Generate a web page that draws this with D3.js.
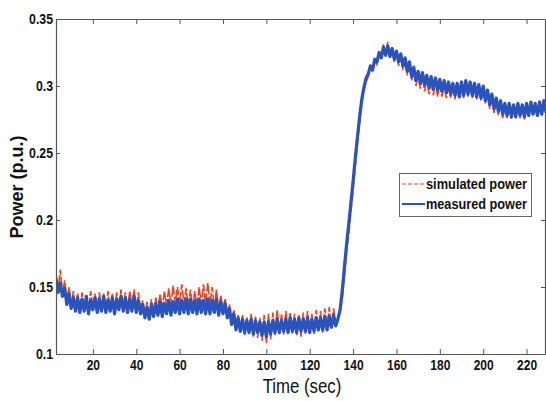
<!DOCTYPE html>
<html>
<head>
<meta charset="utf-8">
<script src="https://cdn.jsdelivr.net/npm/d3@7"></script>
<style>
  html, body { margin: 0; padding: 0; background: #fff; }
  svg { display: block; }
</style>
</head>
<body>
<div id="chart"></div>
<script>
// sampled once per second, starting at t = 3 s
const startTime = 3;

// measured power (p.u.), blue
const measured = [
  0.156, 0.146, 0.153, 0.143, 0.149, 0.137, 0.145, 0.134, 0.142, 0.132,
  0.142, 0.131, 0.141, 0.132, 0.143, 0.130, 0.140, 0.133, 0.142, 0.131,
  0.141, 0.132, 0.143, 0.131, 0.140, 0.132, 0.142, 0.130, 0.141, 0.133,
  0.143, 0.132, 0.142, 0.131, 0.141, 0.132, 0.143, 0.131, 0.140, 0.130,
  0.137, 0.127, 0.135, 0.126, 0.137,
  0.128, 0.138, 0.129, 0.139, 0.128, 0.138, 0.130, 0.140, 0.129, 0.139,
  0.131, 0.141, 0.130, 0.140, 0.131, 0.141, 0.130, 0.141, 0.131, 0.140,
  0.130, 0.141, 0.131, 0.140, 0.130, 0.141, 0.130, 0.140, 0.131, 0.141,
  0.129, 0.139, 0.130,
  0.138, 0.127, 0.134, 0.122, 0.130, 0.118, 0.127,
  0.117, 0.126, 0.116, 0.125, 0.116, 0.126, 0.115, 0.125, 0.116, 0.124,
  0.114, 0.124, 0.113, 0.124, 0.115, 0.125, 0.116, 0.126, 0.116, 0.125,
  0.117, 0.126, 0.116, 0.127, 0.117, 0.126, 0.116, 0.127, 0.117, 0.126,
  0.117, 0.127, 0.116, 0.126, 0.117, 0.127, 0.118, 0.127, 0.118, 0.128,
  0.118, 0.128, 0.120, 0.129, 0.121,
  0.126, 0.133, 0.147, 0.165, 0.182, 0.197, 0.213, 0.229, 0.246, 0.262,
  0.277, 0.290, 0.299, 0.306,
  0.309, 0.315, 0.312, 0.320, 0.318, 0.325, 0.321, 0.329, 0.323, 0.330,
  0.322, 0.328, 0.320, 0.326,
  0.318, 0.324, 0.315, 0.321, 0.311, 0.318, 0.307, 0.314, 0.304, 0.311,
  0.302, 0.310, 0.301, 0.308, 0.299, 0.307, 0.298, 0.306, 0.297, 0.305,
  0.296, 0.304, 0.295, 0.303, 0.294,
  0.302, 0.293, 0.302, 0.292, 0.303, 0.293, 0.304, 0.294, 0.303, 0.293,
  0.302, 0.292, 0.301, 0.291, 0.300,
  0.289, 0.297, 0.286, 0.294, 0.283, 0.291, 0.281, 0.289, 0.279, 0.287,
  0.278, 0.287,
  0.277, 0.286, 0.277, 0.287, 0.278, 0.286, 0.277, 0.287, 0.278, 0.288,
  0.279, 0.287, 0.278, 0.288, 0.279, 0.289, 0.280
];

// simulated power (p.u.), red dashed
const simulated = [
  0.160, 0.148, 0.163, 0.145, 0.155, 0.140, 0.150, 0.137, 0.147, 0.135,
  0.145, 0.133, 0.146, 0.134, 0.144, 0.132, 0.147, 0.135, 0.145, 0.133,
  0.146, 0.134, 0.145, 0.132, 0.147, 0.134, 0.145, 0.133, 0.146, 0.135,
  0.148, 0.134, 0.146, 0.133, 0.147, 0.135, 0.148, 0.134, 0.146, 0.133,
  0.140, 0.128, 0.139, 0.127, 0.141,
  0.131, 0.142, 0.133, 0.145, 0.134, 0.147, 0.136, 0.149, 0.137, 0.151,
  0.138, 0.150, 0.137, 0.152, 0.138, 0.149, 0.136, 0.148, 0.135, 0.147,
  0.136, 0.150, 0.137, 0.152, 0.138, 0.153, 0.137, 0.150, 0.135, 0.148,
  0.133, 0.144, 0.132,
  0.141, 0.129, 0.137, 0.123, 0.133, 0.118, 0.129,
  0.116, 0.129, 0.114, 0.128, 0.115, 0.130, 0.113, 0.128, 0.112, 0.127,
  0.110, 0.129, 0.108, 0.130, 0.111, 0.131, 0.114, 0.133, 0.115, 0.130,
  0.114, 0.132, 0.116, 0.131, 0.115, 0.130, 0.114, 0.129, 0.113, 0.131,
  0.115, 0.132, 0.116, 0.130, 0.115, 0.133, 0.117, 0.132, 0.116, 0.134,
  0.118, 0.135, 0.119, 0.134, 0.122,
  0.128, 0.131, 0.141, 0.158, 0.175, 0.190, 0.206, 0.222, 0.240, 0.256,
  0.272, 0.286, 0.296, 0.303,
  0.307, 0.314, 0.310, 0.319, 0.316, 0.324, 0.320, 0.331, 0.322, 0.333,
  0.321, 0.329, 0.318, 0.325,
  0.315, 0.322, 0.312, 0.318, 0.308, 0.315, 0.304, 0.311, 0.300, 0.309,
  0.298, 0.307, 0.296, 0.305, 0.294, 0.304, 0.293, 0.303, 0.292, 0.302,
  0.292, 0.301, 0.291, 0.300, 0.291,
  0.300, 0.290, 0.301, 0.290, 0.302, 0.291, 0.303, 0.292, 0.302, 0.291,
  0.300, 0.290, 0.299, 0.289, 0.298,
  0.287, 0.295, 0.283, 0.292, 0.280, 0.289, 0.278, 0.287, 0.276, 0.285,
  0.276, 0.285,
  0.275, 0.285, 0.276, 0.286, 0.276, 0.285, 0.275, 0.286, 0.277, 0.287,
  0.278, 0.288, 0.279, 0.289, 0.280, 0.290, 0.281
];

const xTicks = [20, 40, 60, 80, 100, 120, 140, 160, 180, 200, 220];
const yTicks = [0.1, 0.15, 0.2, 0.25, 0.3, 0.35];
const legendLabels = ['simulated power', 'measured power'];

const W = 546, H = 401;
const plotLeft = 56, plotRight = 545, plotTop = 19, plotBottom = 354;
const redColor = '#e8441e', blueColor = '#2a53bb';
const font = '"Liberation Sans", Arial, sans-serif';

// the original uses a condensed face; squeeze Liberation Sans to match
function condense(sel, factor) {
  sel.each(function () {
    const w = this.getComputedTextLength();
    d3.select(this)
      .attr('textLength', w * factor)
      .attr('lengthAdjust', 'spacingAndGlyphs');
  });
}

const svg = d3.select('#chart').append('svg')
  .attr('width', W).attr('height', H);

const x = d3.scaleLinear().domain([3, 228.5]).range([plotLeft, plotRight]);
const y = d3.scaleLinear().domain([0.1, 0.35]).range([plotBottom, plotTop]);

svg.append('clipPath').attr('id', 'plotClip')
  .append('rect')
  .attr('x', plotLeft).attr('y', plotTop)
  .attr('width', plotRight - plotLeft).attr('height', plotBottom - plotTop);

const line = d3.line()
  .x((d, i) => x(startTime + i))
  .y(d => y(d));

const plot = svg.append('g').attr('clip-path', 'url(#plotClip)');

plot.append('path')
  .datum(simulated)
  .attr('fill', 'none')
  .attr('stroke', redColor)
  .attr('stroke-width', 1.6)
  .attr('stroke-dasharray', '9,2')
  .attr('d', line);

plot.append('path')
  .datum(measured)
  .attr('fill', 'none')
  .attr('stroke', blueColor)
  .attr('stroke-width', 3.2)
  .attr('stroke-linejoin', 'round')
  .attr('d', line);

// axes, MATLAB style: ticks inward, box on
const axisColor = '#555';

const xAxis = svg.append('g')
  .attr('transform', `translate(0,${plotBottom})`)
  .call(d3.axisBottom(x).tickValues(xTicks).tickSizeInner(-5).tickSizeOuter(0).tickPadding(5));
xAxis.selectAll('text')
  .attr('font-family', font).attr('font-weight', 'bold')
  .attr('font-size', 15).attr('fill', '#111')
  .call(condense, 0.8);

const xTop = svg.append('g')
  .attr('transform', `translate(0,${plotTop})`)
  .call(d3.axisTop(x).tickValues(xTicks).tickSizeInner(-5).tickSizeOuter(0).tickFormat(''));

const yAxis = svg.append('g')
  .attr('transform', `translate(${plotLeft},0)`)
  .call(d3.axisLeft(y).tickValues(yTicks).tickSizeInner(-4).tickSizeOuter(0).tickPadding(3)
    .tickFormat(d => String(+d.toFixed(2))));
yAxis.selectAll('text')
  .attr('font-family', font).attr('font-weight', 'bold')
  .attr('font-size', 15).attr('fill', '#111')
  .call(condense, 0.82);

const yRight = svg.append('g')
  .attr('transform', `translate(${plotRight},0)`)
  .call(d3.axisRight(y).tickValues(yTicks).tickSizeInner(-4).tickSizeOuter(0).tickFormat(''));

[xAxis, xTop, yAxis, yRight].forEach(g => {
  g.select('.domain').attr('stroke', axisColor).attr('stroke-width', 1.2);
  g.selectAll('.tick line').attr('stroke', axisColor);
});

// axis labels
svg.append('text')
  .attr('x', 302).attr('y', 393)
  .attr('text-anchor', 'middle')
  .attr('font-family', font)
  .attr('font-size', 20).attr('fill', '#111')
  .text('Time (sec)')
  .call(condense, 0.84);

svg.append('text')
  .attr('transform', 'translate(23,187) rotate(-90)')
  .attr('text-anchor', 'middle')
  .attr('font-family', font)
  .attr('font-weight', 'bold')
  .attr('font-size', 18).attr('fill', '#111')
  .text('Power (p.u.)');

// legend
const legend = svg.append('g');
legend.append('rect')
  .attr('x', 399.5).attr('y', 173.5)
  .attr('width', 132).attr('height', 43)
  .attr('fill', '#fff').attr('stroke', '#666').attr('stroke-width', 1);

const legendStyles = [
  { color: redColor, dash: '4,2', width: 1.2 },
  { color: blueColor, dash: null, width: 2 }
];
legendLabels.forEach((label, i) => {
  const ly = 184 + i * 20;
  legend.append('line')
    .attr('x1', 402).attr('x2', 425)
    .attr('y1', ly).attr('y2', ly)
    .attr('stroke', legendStyles[i].color)
    .attr('stroke-width', legendStyles[i].width)
    .attr('stroke-dasharray', legendStyles[i].dash);
  legend.append('text')
    .attr('x', 426).attr('y', ly + 5)
    .attr('font-family', font)
    .attr('font-weight', 'bold')
    .attr('font-size', 14).attr('fill', '#111')
    .text(label)
    .attr('textLength', 101)
    .attr('lengthAdjust', 'spacingAndGlyphs');
});
</script>
</body>
</html>
